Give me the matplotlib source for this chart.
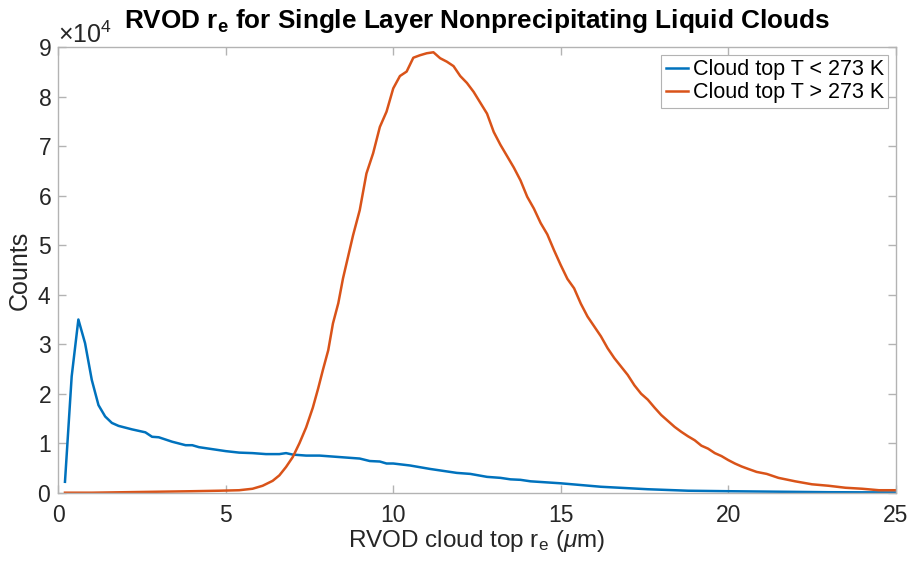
import numpy as np
import matplotlib
matplotlib.use('Agg')
import matplotlib.pyplot as plt
from matplotlib.ticker import ScalarFormatter

plt.rcParams['font.family'] = ['Liberation Sans', 'DejaVu Sans']
plt.rcParams['mathtext.fontset'] = 'custom'
plt.rcParams['mathtext.rm'] = 'Liberation Sans'
plt.rcParams['mathtext.it'] = 'Liberation Sans:italic'
plt.rcParams['mathtext.bf'] = 'Liberation Sans:bold'

# effective radius (um) and counts
cold_re = [0.2, 0.4, 0.6, 0.8, 1.0, 1.2, 1.4, 1.6, 1.8, 2.2, 2.6, 2.8, 3.0,
           3.4, 3.8, 4.0, 4.2, 4.6, 5.0, 5.4, 5.8, 6.2, 6.6, 6.8, 7.0, 7.4,
           7.8, 8.2, 8.6, 9.0, 9.3, 9.6, 9.8, 10.0, 10.5, 11.1, 11.5, 11.9,
           12.3, 12.8, 13.2, 13.5, 13.8, 14.1, 15.0, 16.2, 17.6, 18.8, 20.0,
           21.5, 23.0, 25.0]
cold_counts = [2200, 23500, 35000, 30200, 22800, 17700, 15400, 14100, 13500,
               12800, 12200, 11300, 11200, 10300, 9600, 9600, 9200, 8800,
               8400, 8100, 8000, 7800, 7800, 8000, 7700, 7500, 7500, 7300,
               7100, 6900, 6400, 6300, 5900, 5900, 5500, 4800, 4400, 4000,
               3800, 3200, 3000, 2700, 2600, 2300, 1900, 1200, 700, 400, 300,
               200, 100, 50]

warm_re = [0.2, 1.0, 2.0, 3.0, 4.0, 4.8, 5.4, 5.8, 6.1, 6.4, 6.6, 6.8, 7.0,
           7.2, 7.4, 7.6, 7.76, 7.9, 8.06, 8.2, 8.36, 8.5, 8.8, 9.0, 9.2,
           9.4, 9.6, 9.8, 10.0, 10.2, 10.4, 10.6, 10.8, 11.0, 11.2, 11.4,
           11.6, 11.8, 12.0, 12.2, 12.4, 12.6, 12.8, 13.0, 13.2, 13.4, 13.6,
           13.8, 14.0, 14.2, 14.4, 14.6, 14.8, 15.0, 15.2, 15.4, 15.6, 15.8,
           16.0, 16.2, 16.4, 16.6, 16.8, 17.0, 17.2, 17.4, 17.6, 17.8, 18.0,
           18.2, 18.4, 18.6, 18.8, 19.0, 19.2, 19.4, 19.6, 19.8, 20.0, 20.2,
           20.4, 20.6, 20.85, 21.15, 21.5, 22.0, 22.5, 23.0, 23.5, 24.0, 24.5,
           25.0]
warm_counts = [0, 0, 100, 200, 300, 400, 500, 800, 1400, 2400, 3500, 5200,
               7200, 10000, 13200, 17200, 21100, 24800, 28800, 34200, 38300,
               43300, 52000, 57100, 64500, 68600, 73900, 77000, 81700, 84200,
               85100, 87900, 88400, 88800, 89000, 87800, 87100, 86200, 84200,
               82800, 81000, 78800, 76600, 72900, 70300, 68000, 65700, 63100,
               59800, 57400, 54500, 52200, 49000, 46000, 43200, 41300, 38200,
               35600, 33600, 31600, 29200, 27200, 25500, 23800, 21700, 20000,
               18800, 17200, 15700, 14500, 13300, 12300, 11400, 10600, 9500,
               8900, 8000, 7400, 6600, 5900, 5300, 4800, 4200, 3800, 3000,
               2300, 1700, 1400, 1000, 800, 500, 500]

labels = ['Cloud top T < 273 K', 'Cloud top T > 273 K']
colors = [(0, 0.447, 0.741), (0.85, 0.325, 0.098)]

fig = plt.figure(figsize=(9.12, 5.66), dpi=100)
ax = fig.add_axes([0.0639, 0.1295, 0.9182, 0.7869])

ax.plot(cold_re, cold_counts, color=colors[0], lw=1.8, label=labels[0])
ax.plot(warm_re, warm_counts, color=colors[1], lw=1.8, label=labels[1])

ax.set_xlim(0, 25)
ax.set_ylim(0, 90000)
ax.set_xticks(np.arange(0, 26, 5))
ax.set_yticks(np.arange(0, 90001, 10000))

fmt = ScalarFormatter(useMathText=True)
fmt.set_powerlimits((0, 0))
ax.yaxis.set_major_formatter(fmt)
ax.yaxis.get_offset_text().set_fontsize(18)
ax.yaxis.get_offset_text().set_color('#262626')

spine_col = '#b3b3b3'
for s in ax.spines.values():
    s.set_color(spine_col)
    s.set_linewidth(1.0)
ax.tick_params(direction='in', length=6, width=1.0, color=spine_col,
               labelsize=16.5, labelcolor='#262626', top=True, right=True)
ax.tick_params(axis='x', pad=8)
ax.tick_params(axis='y', pad=5)

ax.set_title(r'RVOD r$_{\mathbf{e}}$ for Single Layer Nonprecipitating Liquid Clouds',
             fontsize=18.8, fontweight='bold', pad=14)
ax.set_xlabel(r'RVOD cloud top r$_{\mathrm{e}}$ ($\mu$m)', fontsize=17.5,
              color='#262626', labelpad=1)
ax.set_ylabel('Counts', fontsize=18, color='#262626', labelpad=4)

leg = ax.legend(loc='upper right', fontsize=15.5, handlelength=1.05,
                handletextpad=0.2, borderpad=0.2, labelspacing=0.1,
                borderaxespad=0.35, fancybox=False, framealpha=1)
leg.get_frame().set_edgecolor(spine_col)
leg.get_frame().set_linewidth(0.8)

fig.savefig('out.png', dpi=100)
